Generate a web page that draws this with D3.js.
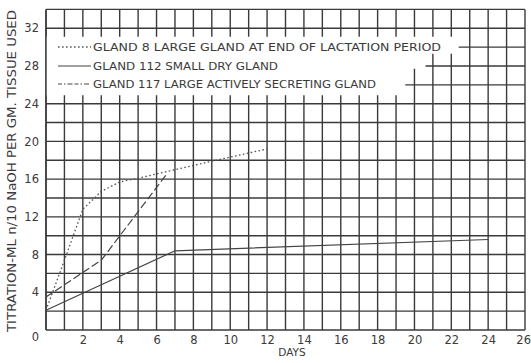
<!DOCTYPE html>
<html>
<head>
<meta charset="utf-8">
<script src="https://cdn.jsdelivr.net/npm/d3@7/dist/d3.min.js"></script>
<style>
    html, body { margin: 0; padding: 0; background: #fff; }
    svg { display: block; font-family: 'DejaVu Sans', sans-serif; }
</style>
</head>
<body>
<svg id="chart" width="531" height="363"></svg>
<script>
// days, titration values
const gland8 = [[0, 2.1], [1, 7.4], [2, 12.8], [3, 14.7], [4, 15.7], [5, 16.1], [7, 17.0], [9, 17.9], [12, 19.2]];
const gland112 = [[0, 2.1], [2, 3.9], [7, 8.4], [24, 9.6]];
const gland117 = [[0, 3.5], [3, 7.4], [6.5, 16.4]];

const xTicks = [2, 4, 6, 8, 10, 12, 14, 16, 18, 20, 22, 24, 26];
const yTicks = [0, 4, 8, 12, 16, 20, 24, 28, 32];

const legendLabels = [
    'GLAND 8  LARGE GLAND AT END OF LACTATION PERIOD',
    'GLAND 112  SMALL DRY  GLAND',
    'GLAND 117  LARGE ACTIVELY SECRETING GLAND'
];

const ink = '#3a3a3a';

const svg = d3.select('#chart');

const x = d3.scaleLinear().domain([0, 26]).range([46, 525]);
const y = d3.scaleLinear().domain([0, 34]).range([330, 9.4]);

/**
 *
 * graph paper grid, one line a day and every 2 units
 *
 * @param {d3.Selection} g
 */
const drawGrid = (g) => {
    g.selectAll('line.v')
        .data(d3.range(0, 27))
        .join('line')
        .attr('class', 'v')
        .attr('x1', d => x(d))
        .attr('x2', d => x(d))
        .attr('y1', y(0))
        .attr('y2', y(34))
        .attr('stroke', ink)
        .attr('stroke-width', 1.4);

    g.selectAll('line.h')
        .data(d3.range(0, 35, 2))
        .join('line')
        .attr('class', 'h')
        .attr('x1', x(0))
        .attr('x2', x(26))
        .attr('y1', d => y(d))
        .attr('y2', d => y(d))
        .attr('stroke', ink)
        .attr('stroke-width', 1.4);
};

drawGrid(svg.append('g'));

// white patch the legend was lettered on
const mask = [[0, 31.1], [22.4, 31.1], [22.4, 29.3], [20.6, 29.3], [20.6, 27.7], [19.5, 27.7], [19.5, 24.9], [0, 24.9]];
svg.append('path')
    .attr('d', d3.line().x(d => x(d[0])).y(d => y(d[1]))(mask) + 'Z')
    .attr('fill', '#fff');

// left border stays visible through the legend
svg.append('line')
    .attr('x1', x(0)).attr('x2', x(0))
    .attr('y1', y(0)).attr('y2', y(34))
    .attr('stroke', ink)
    .attr('stroke-width', 1.4);

const line = d3.line().x(d => x(d[0])).y(d => y(d[1]));

const series = [
    { data: gland8, dash: '1.6,2.4', width: 1.3, color: '#555' },
    { data: gland112, dash: null, width: 1.2, color: '#444' },
    { data: gland117, dash: '8,3', width: 1.2, color: '#444' }
];

series.forEach(s => {
    svg.append('path')
        .attr('d', line(s.data))
        .attr('fill', 'none')
        .attr('stroke', s.color)
        .attr('stroke-width', s.width)
        .attr('stroke-dasharray', s.dash);
});

// axes
const xAxis = svg.append('g')
    .attr('transform', `translate(0,${y(0)})`)
    .call(d3.axisBottom(x).tickValues(xTicks).tickSize(0).tickPadding(6));
xAxis.select('.domain').remove();

// last label sits against the page edge
xAxis.selectAll('.tick text')
    .filter(d => d === 26)
    .attr('text-anchor', 'end')
    .attr('dx', 5.5);

const yAxis = svg.append('g')
    .attr('transform', `translate(${x(0)},0)`)
    .call(d3.axisLeft(y).tickValues(yTicks).tickSize(0).tickPadding(7));
yAxis.select('.domain').remove();

svg.selectAll('.tick text')
    .attr('font-size', 11.5)
    .attr('font-family', "'DejaVu Sans', sans-serif")
    .attr('fill', ink);

yAxis.selectAll('.tick text')
    .filter(d => d === 0)
    .attr('dy', '0.9em');

svg.append('text')
    .attr('x', 292)
    .attr('y', 356)
    .attr('text-anchor', 'middle')
    .attr('font-size', 10.5)
    .attr('fill', ink)
    .text('DAYS');

svg.append('text')
    .attr('transform', 'translate(16,171) rotate(-90)')
    .attr('text-anchor', 'middle')
    .attr('font-size', 11.5)
    .attr('fill', ink)
    .attr('textLength', 322)
    .attr('lengthAdjust', 'spacingAndGlyphs')
    .text('TITRATION-ML n/10 NaOH PER GM. TISSUE USED');

// legend
const legendY = [47, 66, 84];
const legendEnd = [441, 278, 376];

legendLabels.forEach((label, i) => {
    const s = series[i];
    svg.append('line')
        .attr('x1', 58)
        .attr('x2', 91)
        .attr('y1', legendY[i])
        .attr('y2', legendY[i])
        .attr('stroke', s.color)
        .attr('stroke-width', s.width)
        .attr('stroke-dasharray', i === 2 ? '4,2,1.5,2,5,2' : s.dash);

    svg.append('text')
        .attr('x', 93)
        .attr('y', legendY[i])
        .attr('dy', '0.36em')
        .attr('font-size', 11)
        .attr('fill', ink)
        .attr('textLength', legendEnd[i] - 93)
        .attr('lengthAdjust', 'spacingAndGlyphs')
        .text(label);
});
</script>
</body>
</html>
